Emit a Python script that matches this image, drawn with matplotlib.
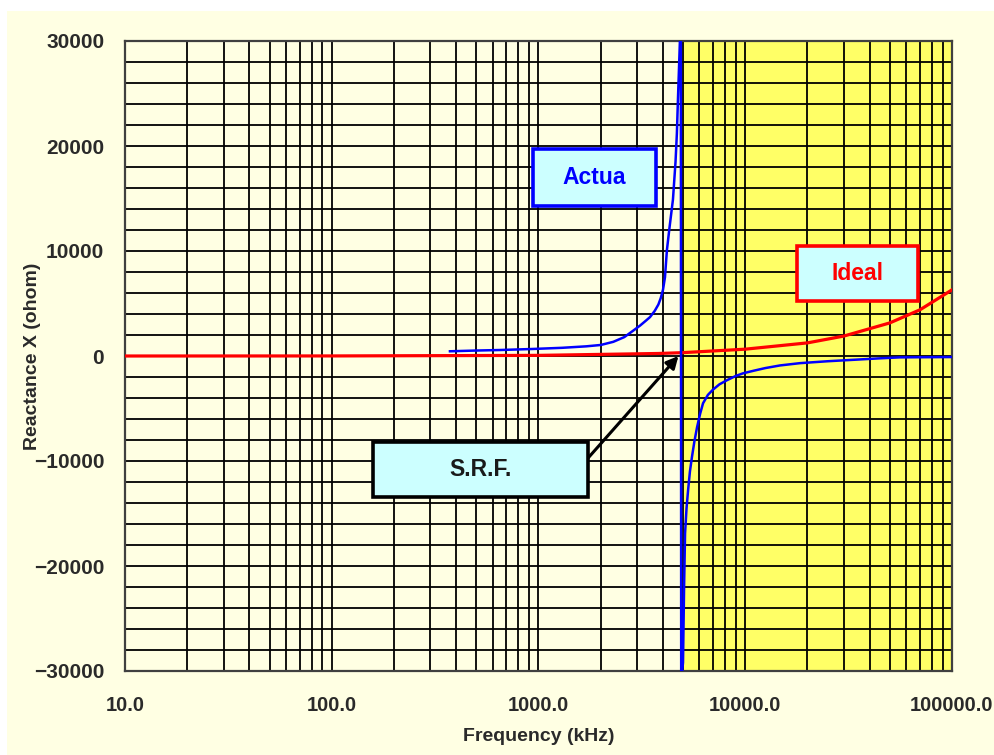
import matplotlib
matplotlib.use("Agg")
import matplotlib.pyplot as plt
from matplotlib.patches import Rectangle
from matplotlib.ticker import FixedLocator, LogLocator, MultipleLocator, NullFormatter

# ---------------- data ----------------
# Actual reactance, inductive branch below the self-resonant frequency
actual_pos_freq_khz = [373, 500, 650, 940, 1300, 1700, 2000, 2300, 2600, 2865, 3100, 3300, 3460, 3650,
                       3800, 3900, 4000, 4090, 4180, 4300, 4470, 4600, 4670, 4725, 4830, 4880]
actual_pos_x_ohm = [450, 520, 570, 670, 780, 920, 1050, 1350, 1800, 2400, 2900, 3350, 3700, 4300,
                    4900, 5500, 6300, 7500, 10100, 12200, 14900, 18500, 21200, 24400, 30000, 33000]
# Actual reactance, capacitive branch above the self-resonant frequency
actual_neg_freq_khz = [4900, 5000, 5060, 5115, 5200, 5290, 5400, 5525, 5680, 5845, 6050, 6250, 6600,
                       6985, 7500, 8165, 9000, 9755, 11000, 12500, 14720, 18420, 25000, 32130, 45000,
                       55980, 100000]
actual_neg_x_ohm = [-31000, -29200, -22000, -16900, -14500, -12800, -11000, -9600, -8100, -6800, -5500,
                    -4500, -3700, -3200, -2700, -2300, -1900, -1650, -1400, -1150, -900, -680, -500,
                    -380, -220, -130, -100]
# Ideal inductor reactance
ideal_freq_khz = [10, 100, 1000, 3800, 5000, 10000, 20000, 30000, 50000, 70000, 100000]
ideal_x_ohm = [0, 6, 60, 240, 320, 650, 1250, 1900, 3150, 4400, 6300]

srf_khz = 4900
x_range_khz = [10, 100000]
y_range_ohm = [-30000, 30000]

x_tick_values = [10, 100, 1000, 10000, 100000]
x_tick_labels = ["10.0", "100.0", "1000.0", "10000.0", "100000.0"]
y_tick_values = [-30000, -20000, -10000, 0, 10000, 20000, 30000]
y_tick_labels = ["\u221230000", "\u221220000", "\u221210000", "0", "10000", "20000", "30000"]

x_label = "Frequency (kHz)"
y_label = "Reactance X (ohom)"
label_actual = "Actua"
label_ideal = "Ideal"
label_srf = "S.R.F."

# ---------------- styling ----------------
plt.rcParams["font.family"] = ["Liberation Sans", "DejaVu Sans"]
plt.rcParams["font.weight"] = "bold"

W, H = 995, 755
fig = plt.figure(figsize=(W / 100, H / 100), dpi=100)
fig.patch.set_facecolor("white")
fig.add_artist(Rectangle((7 / W, 0), 1 - 7 / W, 1 - 11 / H, transform=fig.transFigure,
                         facecolor="#FFFFE3", edgecolor="none", zorder=-10))

ax = fig.add_axes([125 / W, 1 - 671 / H, 827 / W, 630 / H])
ax.set_facecolor("#FFFFE3")
ax.set_xscale("log")
ax.set_xlim(*x_range_khz)
ax.set_ylim(*y_range_ohm)

# yellow region above SRF
ax.axvspan(srf_khz, x_range_khz[1], facecolor="#FFFF66", edgecolor="none", zorder=0.2)

# grid
ax.set_axisbelow(True)
ax.xaxis.set_major_locator(FixedLocator(x_tick_values))
ax.xaxis.set_minor_locator(LogLocator(base=10, subs=range(2, 10), numticks=20))
ax.xaxis.set_minor_formatter(NullFormatter())
ax.set_xticklabels(x_tick_labels)
ax.yaxis.set_major_locator(FixedLocator(y_tick_values))
ax.yaxis.set_minor_locator(MultipleLocator(2000))
ax.set_yticklabels(y_tick_labels)
ax.grid(True, which="both", color="black", linewidth=1.3)

ax.tick_params(which="both", length=0)
ax.tick_params(axis="x", pad=18, labelsize=14.5, labelcolor="#2a2a2a")
ax.tick_params(axis="y", pad=15, labelsize=15, labelcolor="#2a2a2a")
for lab in ax.get_xticklabels() + ax.get_yticklabels():
    lab.set_fontweight("bold")

for s in ax.spines.values():
    s.set_color("#404040")
    s.set_linewidth(1.6)

# curves
ax.plot(ideal_freq_khz, ideal_x_ohm, color="#FF0000", linewidth=2.3, zorder=3)
ax.plot(actual_pos_freq_khz + actual_neg_freq_khz, actual_pos_x_ohm + actual_neg_x_ohm,
        color="#0000FF", linewidth=1.8, zorder=4)

ax.set_xlabel(x_label, fontsize=14, fontweight="bold", color="#2a2a2a")
ax.set_ylabel(y_label, fontsize=14, fontweight="bold", color="#2a2a2a")
ax.xaxis.set_label_coords(0.5, -0.091)
ax.yaxis.set_label_coords(-0.102, 0.5)


def box(x0, y0, x1, y1, edge, text, tcolor):
    # box given in axes-fraction coordinates
    r = Rectangle((x0, y0), x1 - x0, y1 - y0, transform=ax.transAxes, facecolor="#CCFFFF",
                  edgecolor=edge, linewidth=2.6, zorder=6, clip_on=False)
    ax.add_patch(r)
    ax.text((x0 + x1) / 2, (y0 + y1) / 2, text, transform=ax.transAxes, ha="center", va="center",
            fontsize=16.5, fontweight="bold", color=tcolor, zorder=7)


box(0.4933, 0.7381, 0.6421, 0.8286, "#0000FF", label_actual, "#0000FF")
box(0.8126, 0.5873, 0.9589, 0.6746, "#FF0000", label_ideal, "#FF0000")
box(0.2999, 0.2762, 0.5599, 0.3635, "black", label_srf, "#1a1a1a")

ax.annotate("", xy=(srf_khz * 0.97, 0), xycoords="data", xytext=(0.5599, 0.338), textcoords="axes fraction",
            arrowprops=dict(arrowstyle="-|>", color="black", lw=2.2, mutation_scale=18, shrinkA=0, shrinkB=0),
            zorder=5)

fig.savefig("out.png", dpi=100, facecolor=fig.get_facecolor())
